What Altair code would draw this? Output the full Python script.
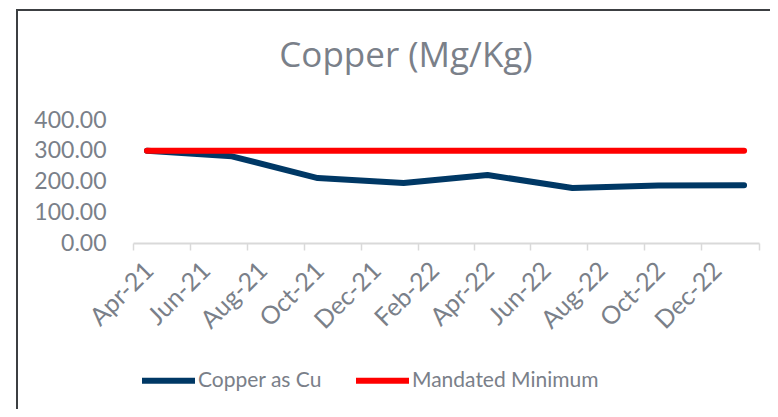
import altair as alt
import pandas as pd

# ---- data ----
months = ["2021-04", "2021-07", "2021-10", "2022-01", "2022-04", "2022-07", "2022-10", "2023-01"]
copper = [300, 282, 211, 195, 221, 179, 187, 188]
mandated = [300, 300, 300, 300, 300, 300, 300, 300]
series_names = ["Copper as Cu", "Mandated Minimum"]
series_colors = ["#003865", "#ff0000"]
y_ticks = [0, 100, 200, 300, 400]
title_text = "Copper (Mg/Kg)"

rows = []
for m, c, r in zip(months, copper, mandated):
    rows.append({"m": m, "series": series_names[0], "value": c})
    rows.append({"m": m, "series": series_names[1], "value": r})
df = pd.DataFrame(rows)

FONT = "Lato"
GREY = "#7a8089"

tick_values = [alt.DateTime(year=2021 + (3 + 2 * i) // 12, month=(3 + 2 * i) % 12 + 1, date=1, utc=True)
               for i in range(12)]

x_enc = alt.X(
    "mid:T",
    scale=alt.Scale(type="utc",
                    domain=[alt.DateTime(year=2021, month=4, date=1, utc=True),
                            alt.DateTime(year=2023, month=2, date=1, utc=True)]),
    axis=alt.Axis(
        title=None, values=tick_values,
        labelExpr="utcFormat(datum.value, '%b-%y') == 'Feb-23' ? '' : utcFormat(datum.value, '%b-%y')",
        labelAngle=-45, labelAlign="right", labelBaseline="middle",
        labelOffset=16, labelPadding=16,
        labelFont=FONT, labelFontSize=25, labelColor=GREY,
        domainColor="#d9d9d9", domainWidth=2, tickColor="#d9d9d9", tickWidth=1.5, tickSize=7,
        grid=False, labelOverlap=False, labelFlush=False,
    ),
)

y_enc = alt.Y(
    "value:Q",
    scale=alt.Scale(domain=[0, 400], nice=False),
    axis=alt.Axis(title=None, values=y_ticks, format=".2f", ticks=False, domain=False, grid=False,
                  labelPadding=27, labelFont=FONT, labelFontSize=23, labelColor=GREY),
)

lines = alt.Chart(df).transform_calculate(
    mid="utc(toNumber(slice(datum.m,0,4)), toNumber(slice(datum.m,5,7))-1, 16)"
).mark_line(strokeWidth=6, strokeCap="round", strokeJoin="round").encode(
    x=x_enc,
    y=y_enc,
    color=alt.Color(
        "series:N",
        scale=alt.Scale(domain=series_names, range=series_colors),
        legend=alt.Legend(
            title=None, orient="none", direction="horizontal", legendX=6, legendY=231,
            symbolType="stroke", symbolSize=2809, symbolStrokeWidth=6,
            labelFont=FONT, labelFontSize=21, labelColor=GREY, labelOffset=0, labelLimit=400,
            columnPadding=22, padding=0,
        ),
    ),
    order=alt.Order("mid:T"),
)

one = pd.DataFrame({"t": [title_text]})
title = alt.Chart(one).mark_text(font="Open Sans", fontSize=35, color=GREY, align="center",
                                 baseline="alphabetic", clip=False).encode(
    text="t:N", x=alt.value(273), y=alt.value(-53)
)

border_left = alt.Chart(one).mark_rule(color="#3c3f42", strokeWidth=2, clip=False).encode(
    x=alt.value(-116), y=alt.value(-110), y2=alt.value(300)
)
border_top = alt.Chart(one).mark_rule(color="#3c3f42", strokeWidth=2, clip=False).encode(
    x=alt.value(-117), x2=alt.value(700), y=alt.value(-110)
)

chart = alt.layer(border_left, border_top, title, lines).properties(
    width=626, height=123,
    padding={"left": 125, "top": 112, "right": 11, "bottom": 166},
    autosize=alt.AutoSizeParams(type="none"),
).configure_view(stroke=None)

chart.save("out.html", embed_options={"renderer": "svg", "actions": False})
